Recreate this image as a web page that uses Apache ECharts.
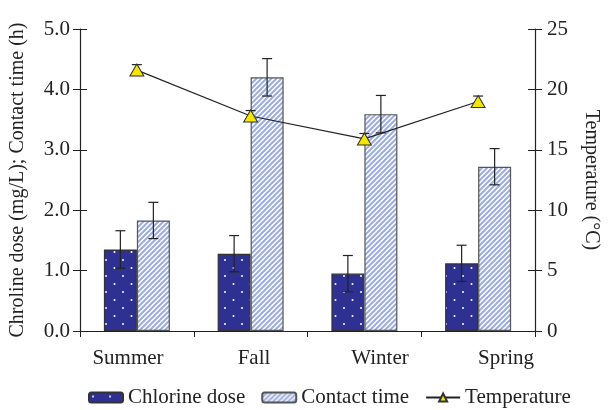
<!DOCTYPE html>
<html>
<head>
<meta charset="utf-8">
<script src="https://cdn.jsdelivr.net/npm/echarts@6/dist/echarts.min.js"></script>
<style>
  html, body { margin: 0; padding: 0; background: #fff; }
  #chart { width: 611px; height: 410px; }
</style>
</head>
<body>
<div id="chart"></div>
<script>
// Seasonal chlorine dose, contact time and water temperature
const seasons = ['Summer', 'Fall', 'Winter', 'Spring'];
const chlorineDose = [1.35, 1.28, 0.95, 1.12];      // mg/L
const chlorineErr  = [0.31, 0.30, 0.30, 0.30];
const contactTime  = [1.83, 4.20, 3.59, 2.72];      // h
const contactErr   = [0.30, 0.31, 0.31, 0.30];
const temperature  = [21.6, 17.8, 15.9, 19.0];      // °C
const temperatureErr = [0.45, 0.45, 0.45, 0.45];
const leftTicks = [0, 1, 2, 3, 4, 5];
const rightTicks = [0, 5, 10, 15, 20, 25];

const FONT = '"Liberation Serif", "Times New Roman", serif';
const INK = '#222';
const BAR_W = 33;

// Navy fill sprinkled with white dots
function dotPattern() {
  const c = document.createElement('canvas');
  c.width = 17; c.height = 16;
  const g = c.getContext('2d');
  g.fillStyle = '#2e3192';
  g.fillRect(0, 0, 17, 16);
  g.fillStyle = '#ffffff';
  [[4, 4], [12.5, 12]].forEach(([x, y]) => {
    g.beginPath(); g.arc(x, y, 1, 0, Math.PI * 2); g.fill();
  });
  return { image: c, repeat: 'repeat' };
}

// Light blue diagonal hatching on white
function stripePattern() {
  const s = 5;
  const c = document.createElement('canvas');
  c.width = s; c.height = s;
  const g = c.getContext('2d');
  g.fillStyle = '#ffffff';
  g.fillRect(0, 0, s, s);
  g.strokeStyle = '#9dade0';
  g.lineWidth = 2;
  for (let k = -1; k <= 1; k++) {
    g.beginPath();
    g.moveTo(k * s - 1, s + 1);
    g.lineTo(k * s + s + 1, -1);
    g.stroke();
  }
  return { image: c, repeat: 'repeat' };
}

function errorBars(values, errs, offset) {
  return values.map((v, i) => [i, v, errs[i], offset]);
}

function renderError(params, api) {
  const i = api.value(0), v = api.value(1), e = api.value(2), off = api.value(3);
  const top = api.coord([i, v + e]);
  const bot = api.coord([i, v - e]);
  const x = top[0] + off;
  const cap = 5;
  const style = { stroke: INK, lineWidth: 1.2 };
  return {
    type: 'group',
    children: [
      { type: 'line', shape: { x1: x, y1: top[1], x2: x, y2: bot[1] }, style },
      { type: 'line', shape: { x1: x - cap, y1: top[1], x2: x + cap, y2: top[1] }, style },
      { type: 'line', shape: { x1: x - cap, y1: bot[1], x2: x + cap, y2: bot[1] }, style }
    ]
  };
}

const axisLine = { show: true, lineStyle: { color: INK, width: 1.2 } };
const hidden = { show: false };

const chart = echarts.init(document.getElementById('chart'), null, { renderer: 'canvas' });

const option = {
  animation: false,
  backgroundColor: '#fff',
  grid: [
    { left: 80, right: 76, top: 29, bottom: 79 },
    { left: 65, right: 42, top: 29, bottom: 79 }
  ],
  legend: {
    bottom: 2,
    left: 88,
    padding: 0,
    itemWidth: 34,
    itemHeight: 10,
    itemGap: 16,
    data: ['Chlorine dose', 'Contact time', 'Temperature'],
    textStyle: { fontFamily: FONT, fontSize: 21, color: INK }
  },
  xAxis: [
    {
      type: 'category', data: seasons, gridIndex: 0,
      axisLine, axisLabel: hidden,
      axisTick: { show: true, length: 6, lineStyle: { color: INK } },
      splitLine: hidden
    },
    {
      type: 'category', data: seasons, gridIndex: 0,
      axisLine: hidden, axisLabel: hidden,
      axisTick: { show: true, inside: true, length: 6, lineStyle: { color: INK } },
      splitLine: hidden
    },
    {
      type: 'category', data: seasons, gridIndex: 1,
      axisLine: hidden, axisTick: hidden, splitLine: hidden,
      axisLabel: { show: true, margin: 17, fontFamily: FONT, fontSize: 21, color: INK }
    }
  ],
  yAxis: [
    {
      type: 'value', gridIndex: 0, min: leftTicks[0], max: leftTicks[leftTicks.length - 1], interval: 1,
      position: 'left',
      name: 'Chroline dose (mg/L); Contact time (h)',
      nameLocation: 'middle', nameGap: 52,
      nameTextStyle: { fontFamily: FONT, fontSize: 20, color: INK },
      axisLine, splitLine: hidden,
      axisTick: { show: true, length: 7, lineStyle: { color: INK } },
      axisLabel: { margin: 10, fontFamily: FONT, fontSize: 21, color: INK, formatter: v => v.toFixed(1) }
    },
    {
      type: 'value', gridIndex: 0, min: rightTicks[0], max: rightTicks[rightTicks.length - 1], interval: 5,
      position: 'right',
      name: 'Temperature (°C)',
      nameLocation: 'middle', nameGap: 46, nameRotate: -90,
      nameTextStyle: { fontFamily: FONT, fontSize: 20, color: INK },
      axisLine, splitLine: hidden,
      axisTick: { show: true, length: 7, lineStyle: { color: INK } },
      axisLabel: { margin: 12, fontFamily: FONT, fontSize: 21, color: INK }
    },
    {
      type: 'value', gridIndex: 0, min: 0, max: 5, interval: 1, position: 'left',
      axisLine: hidden, axisLabel: hidden, splitLine: hidden,
      axisTick: { show: true, inside: true, length: 7, lineStyle: { color: INK } }
    },
    {
      type: 'value', gridIndex: 0, min: 0, max: 25, interval: 5, position: 'right',
      axisLine: hidden, axisLabel: hidden, splitLine: hidden,
      axisTick: { show: true, inside: true, length: 7, lineStyle: { color: INK } }
    },
    {
      type: 'value', gridIndex: 1, min: 0, max: 5, show: false
    }
  ],
  series: [
    {
      name: 'Chlorine dose', type: 'bar', xAxisIndex: 0, yAxisIndex: 0,
      data: chlorineDose, barWidth: BAR_W, barGap: '0%', z: 2,
      itemStyle: { color: dotPattern(), borderColor: '#333', borderWidth: 1.2 }
    },
    {
      name: 'Contact time', type: 'bar', xAxisIndex: 0, yAxisIndex: 0,
      data: contactTime, barWidth: BAR_W, barGap: '0%', z: 2,
      itemStyle: { color: stripePattern(), borderColor: '#555', borderWidth: 1.2 }
    },
    {
      type: 'custom', xAxisIndex: 0, yAxisIndex: 0, z: 3,
      renderItem: renderError, data: errorBars(chlorineDose, chlorineErr, -BAR_W / 2),
      encode: { x: 0, y: 1 }
    },
    {
      type: 'custom', xAxisIndex: 0, yAxisIndex: 0, z: 3,
      renderItem: renderError, data: errorBars(contactTime, contactErr, BAR_W / 2),
      encode: { x: 0, y: 1 }
    },
    {
      type: 'custom', xAxisIndex: 0, yAxisIndex: 1, z: 4,
      renderItem: renderError, data: errorBars(temperature, temperatureErr, 0),
      encode: { x: 0, y: 1 }
    },
    {
      name: 'Temperature', type: 'line', xAxisIndex: 0, yAxisIndex: 1,
      data: temperature, z: 5,
      symbol: 'triangle', symbolSize: [14, 12],
      lineStyle: { color: INK, width: 1.2 },
      itemStyle: { color: '#f5e600', borderColor: '#333', borderWidth: 1 }
    }
  ]
};

chart.setOption(option);
</script>
</body>
</html>
